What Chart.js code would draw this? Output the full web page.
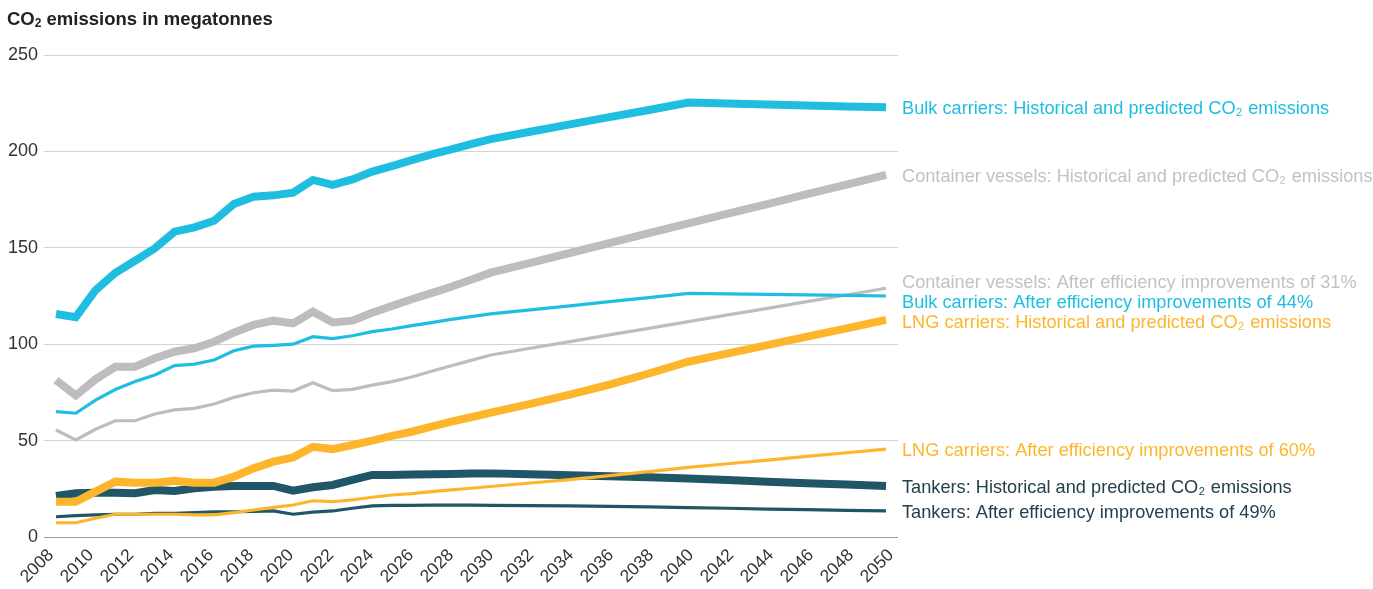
<!DOCTYPE html>
<html>
<head>
<meta charset="utf-8">
<script src="https://cdn.jsdelivr.net/npm/chart.js@4"></script>
<style>
  html, body { margin: 0; padding: 0; background: #ffffff; }
  #wrap { position: relative; width: 1373px; height: 589px; }
  #title { position: absolute; left: 7px; top: 8px; font-family: "Liberation Sans", Arial, sans-serif; font-weight: bold; font-size: 18.5px; color: #222; white-space: nowrap; }
  #title sub { font-size: 12px; vertical-align: -2px; line-height: 0; }
  canvas { position: absolute; left: 0; top: 0; }
</style>
</head>
<body>
<div id="wrap">
  <canvas id="c" width="1373" height="589"></canvas>
  <div id="title">CO<sub>2</sub> emissions in megatonnes</div>
</div>
<script>
const years = [2008,2009,2010,2011,2012,2013,2014,2015,2016,2017,2018,2019,2020,2021,2022,2023,2024,2025,2026,2027,2028,2029,2030,2032,2034,2036,2038,2040,2042,2044,2046,2048,2050];
const xTickLabels = [2008,2010,2012,2014,2016,2018,2020,2022,2024,2026,2028,2030,2032,2034,2036,2038,2040,2042,2044,2046,2048,2050];
const yTickLabels = [0,50,100,150,200,250];

const bulkHist = [115.7,114,128,137,143.3,149.7,158.4,160.6,164,172.7,176.5,177.2,178.6,185.2,182.6,185.5,189.5,192.4,195.5,198.5,201,203.8,206.4,210.2,214,217.8,221.5,225.3,224.8,224.3,223.8,223.3,222.9];
const containerHist = [81.4,73.4,81.8,88.3,88.3,92.7,96.1,97.9,101.3,106,110,112.2,110.8,116.9,111.3,112.2,116.3,119.8,123.3,126.5,129.8,133.4,137.1,142.2,147.3,152.4,157.6,162.7,167.7,172.7,177.8,182.8,187.8];
const containerEff = [55.5,50.3,55.9,60.3,60.3,63.8,65.9,66.7,69,72.4,74.8,76.2,75.7,80,75.9,76.6,78.8,80.6,83,86,88.8,91.6,94.4,97.9,101.3,104.8,108.2,111.7,115.2,118.6,122.1,125.5,129];
const bulkEff = [65,64.2,71,76.5,80.6,84,88.9,89.7,91.8,96.6,99,99.4,100,103.9,102.9,104.4,106.5,107.9,109.6,111.2,112.9,114.3,115.7,117.8,119.9,122.1,124.2,126.4,126.1,125.8,125.6,125.3,125];
const lngHist = [18.3,18.3,23.5,28.7,28.2,28.2,29.2,28.2,28.2,31.3,35.6,39.1,41.3,46.8,45.6,47.7,50,52.4,54.6,57.2,59.8,62.1,64.5,69,73.8,79,84.8,90.9,95.2,99.5,103.9,108.2,112.6];
const lngEff = [7.4,7.4,9.7,11.8,11.8,11.8,11.8,11.5,11.5,12.6,14,15.4,16.6,18.8,18.3,19.3,20.6,21.8,22.5,23.5,24.4,25.3,26.2,28,29.8,31.8,33.9,36.1,38,39.9,41.8,43.7,45.6];
const tankerHist = [21.3,22.7,23,23,22.7,24.4,23.9,25.3,26.1,26.5,26.5,26.5,24,25.8,27,29.6,32.2,32.2,32.4,32.6,32.7,32.9,33,32.5,32,31.5,31,30.4,29.6,28.7,27.9,27.2,26.5];
const tankerEff = [10.5,11.1,11.5,11.8,11.8,12.3,12.3,12.6,13,13.1,13.3,13.5,11.8,12.9,13.5,14.9,16.1,16.4,16.4,16.5,16.5,16.5,16.4,16.3,16.1,15.9,15.6,15.2,14.9,14.5,14.2,13.8,13.5];

const seriesNames = [
  "LNG carriers: Historical and predicted CO₂ emissions",
  "LNG carriers: After efficiency improvements of 60%",
  "Bulk carriers: Historical and predicted CO₂ emissions",
  "Container vessels: Historical and predicted CO₂ emissions",
  "Bulk carriers: After efficiency improvements of 44%",
  "Container vessels: After efficiency improvements of 31%",
  "Tankers: Historical and predicted CO₂ emissions",
  "Tankers: After efficiency improvements of 49%"
];

const C_BULK = '#1fbee0', C_CONT = '#bdbdc1', C_CONT_TXT = '#c2c2c6', C_LNG = '#fdb62c', C_TANK = '#215667', C_TANK_TXT = '#24404f';

function pts(vals) { return years.map((y, i) => ({ x: y, y: vals[i] })); }
function ds(i, vals, color, width, textColor) {
  return { label: seriesNames[i], data: pts(vals), xAxisID: 'x', yAxisID: 'y',
           borderColor: color, backgroundColor: color, borderWidth: width,
           pointRadius: 0, pointHoverRadius: 0, tension: 0, fill: false, borderCapStyle: 'butt', borderJoinStyle: 'miter',
           textColor: textColor };
}

const datasets = [
  ds(0, lngHist, C_LNG, 8, C_LNG),
  ds(1, lngEff, C_LNG, 3.2, C_LNG),
  ds(2, bulkHist, C_BULK, 8, C_BULK),
  ds(3, containerHist, C_CONT, 8, C_CONT_TXT),
  ds(4, bulkEff, C_BULK, 3.2, C_BULK),
  ds(5, containerEff, C_CONT, 3.2, C_CONT_TXT),
  ds(6, tankerHist, C_TANK, 8, C_TANK_TXT),
  ds(7, tankerEff, C_TANK, 3.2, C_TANK_TXT)
];

const FONT = '"Liberation Sans", Arial, Helvetica, sans-serif';

function drawSubText(ctx, text, x, y, size) {
  const parts = text.split('₂');
  let cx = x;
  parts.forEach((p, idx) => {
    ctx.font = size + 'px ' + FONT;
    ctx.fillText(p, cx, y);
    cx += ctx.measureText(p).width;
    if (idx < parts.length - 1) {
      ctx.font = Math.round(size * 0.62) + 'px ' + FONT;
      ctx.fillText('2', cx + 0.5, y + 4);
      cx += ctx.measureText('2').width + 1.5;
    }
  });
}

const endLabels = {
  id: 'endLabels',
  afterDatasetsDraw(chart) {
    const ctx = chart.ctx;
    const ys = chart.scales.y;
    const area = chart.chartArea;
    const items = chart.data.datasets.map(d => ({
      text: d.label, color: d.textColor,
      y: ys.getPixelForValue(d.data[d.data.length - 1].y)
    }));
    items.sort((a, b) => a.y - b.y);
    const gap = 20;
    for (let iter = 0; iter < 200; iter++) {
      let moved = false;
      for (let i = 0; i < items.length - 1; i++) {
        const d = items[i + 1].y - items[i].y;
        if (d < gap) {
          const push = (gap - d) / 2;
          items[i].y -= push; items[i + 1].y += push; moved = true;
        }
      }
      if (!moved) break;
    }
    ctx.save();
    ctx.textBaseline = 'middle';
    ctx.textAlign = 'left';
    items.forEach(it => {
      ctx.fillStyle = it.color;
      drawSubText(ctx, it.text, area.right + 4, it.y + 2, 18.2);
    });
    ctx.restore();
  }
};

const PXY = 830 / 42;

new Chart(document.getElementById('c'), {
  type: 'line',
  data: { datasets },
  options: {
    responsive: false,
    animation: false,
    events: [],
    layout: { padding: { left: 0, right: 475, top: 55, bottom: 0 } },
    plugins: { legend: { display: false }, tooltip: { enabled: false }, title: { display: false } },
    scales: {
      x: {
        type: 'linear',
        display: false,
        min: 2008 - 12 / PXY,
        max: 2050 + 12 / PXY
      },
      xLabels: {
        type: 'linear',
        position: 'bottom',
        min: 2008 - 7 / 20,
        max: 2050 + 7 / 20,
        afterBuildTicks: s => { s.ticks = xTickLabels.map(v => ({ value: v })); },
        afterFit: s => { s.height = 52; },
        grid: { display: false, drawTicks: false },
        border: { display: false },
        ticks: {
          autoSkip: false, minRotation: 45, maxRotation: 45, padding: 8,
          color: '#333', font: { family: FONT, size: 17.5 },
          callback: v => String(v)
        }
      },
      y: {
        min: 0, max: 250,
        afterBuildTicks: s => { s.ticks = yTickLabels.map(v => ({ value: v })); },
        afterFit: s => { s.width = 44; },
        grid: { drawTicks: false, color: c => (c.tick && c.tick.value === 0) ? '#9c9c9c' : '#d4d4d4', lineWidth: 1 },
        border: { display: false },
        ticks: { padding: 6, color: '#333', font: { family: FONT, size: 18 }, callback: v => String(v) }
      }
    }
  },
  plugins: [endLabels]
});
</script>
</body>
</html>
